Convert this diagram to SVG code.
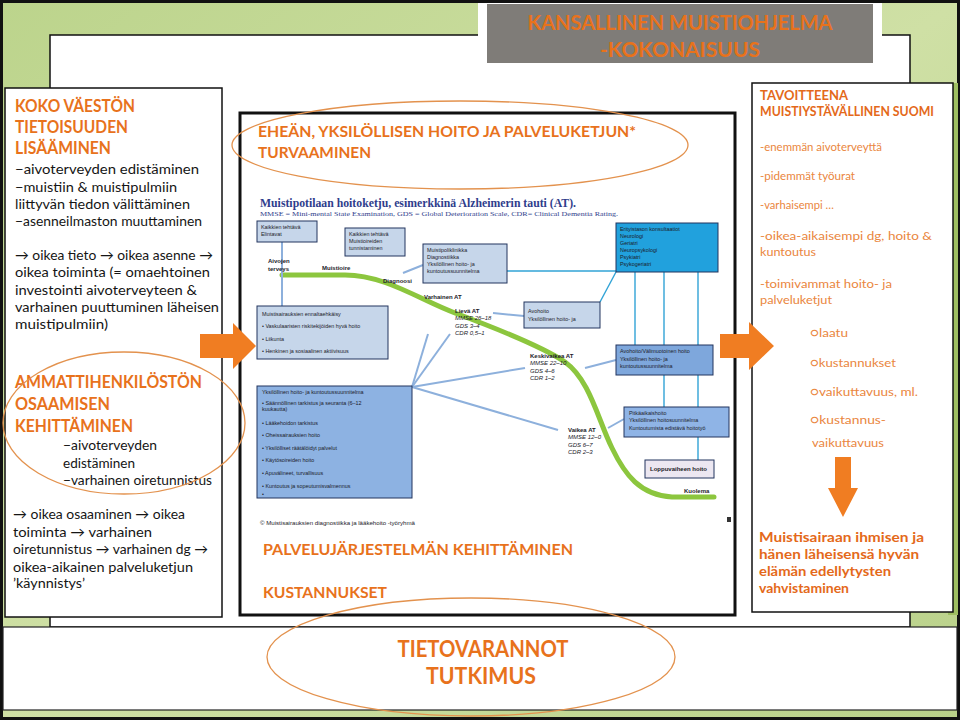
<svg xmlns="http://www.w3.org/2000/svg" width="960" height="720" viewBox="0 0 960 720">
<defs>
<linearGradient id="bg" x1="0" y1="0" x2="1" y2="1">
<stop offset="0" stop-color="#bcd48c"/>
<stop offset="0.5" stop-color="#cfe0a5"/>
<stop offset="1" stop-color="#b9d189"/>
</linearGradient>
<style>
.h{font-family:Lato,"Open Sans","Liberation Sans",sans-serif;font-weight:700;fill:#e8721c}
.b{font-family:Lato,"Open Sans","Liberation Sans",sans-serif;font-size:13.5px;fill:#151515}
.ro{font-family:Lato,"Open Sans","Liberation Sans",sans-serif;font-size:12px;fill:#ea8640}
.rb{font-family:Lato,"Open Sans","Liberation Sans",sans-serif;font-size:13px;font-weight:700;fill:#e4691a}
.t{font-family:"Liberation Sans",Arial,sans-serif;font-size:5.4px;fill:#1c1c2a}
.tb{font-family:"Liberation Sans",Arial,sans-serif;font-size:6px;font-weight:700;fill:#1c1c2a}
.ti{font-family:"Liberation Sans",Arial,sans-serif;font-size:6px;font-style:italic;fill:#1c1c2a}
.panel{fill:#fff;stroke:#111;stroke-width:1.5}
.bx{stroke:#23355e;stroke-width:1}
.ell{fill:none;stroke:#e3924e;stroke-width:1.3}
.fan{stroke:#8db0dc;stroke-width:2;fill:none}
.cy{stroke:#31a3d6;stroke-width:1.4;fill:none}
.arr{fill:#f07d22}
</style>
</defs>

<!-- background frame -->
<rect x="1.5" y="1.5" width="957" height="717" fill="url(#bg)" stroke="#111" stroke-width="3"/>
<rect class="panel" x="50" y="35" width="860" height="592"/>
<rect x="3" y="627" width="954" height="83" fill="#fff" stroke="#222" stroke-width="1.2"/>

<!-- title -->
<g id="title">
<rect x="478" y="3" width="404" height="65" fill="#fff"/>
<rect x="487" y="4" width="386" height="59" fill="#7f7c78"/>
<text class="h" x="680" y="30" font-size="21" text-anchor="middle" textLength="305" lengthAdjust="spacingAndGlyphs" fill="#ee6a1c">KANSALLINEN MUISTIOHJELMA</text>
<text class="h" x="680" y="57" font-size="21" text-anchor="middle" textLength="160" lengthAdjust="spacingAndGlyphs" fill="#ee6a1c">-KOKONAISUUS</text>
</g>

<!-- left box -->
<g id="left-box">
<rect class="panel" x="5" y="88" width="217" height="529"/>
<text class="h" x="15" y="112" font-size="16.5" textLength="120" lengthAdjust="spacingAndGlyphs">KOKO VÄESTÖN</text>
<text class="h" x="15" y="133" font-size="16.5" textLength="113" lengthAdjust="spacingAndGlyphs">TIETOISUUDEN</text>
<text class="h" x="15" y="154" font-size="16.5" textLength="96" lengthAdjust="spacingAndGlyphs">LISÄÄMINEN</text>
<text class="b" x="15" y="174" textLength="184" lengthAdjust="spacingAndGlyphs">−aivoterveyden edistäminen</text>
<text class="b" x="15" y="192" textLength="162" lengthAdjust="spacingAndGlyphs">−muistiin &amp; muistipulmiin</text>
<text class="b" x="15" y="209" textLength="175" lengthAdjust="spacingAndGlyphs">liittyvän tiedon välittäminen</text>
<text class="b" x="15" y="226" textLength="187" lengthAdjust="spacingAndGlyphs">−asenneilmaston muuttaminen</text>
<text class="b" x="15" y="260" textLength="198" lengthAdjust="spacingAndGlyphs">→ oikea tieto → oikea asenne →</text>
<text class="b" x="15" y="277" textLength="195" lengthAdjust="spacingAndGlyphs">oikea toiminta (= omaehtoinen</text>
<text class="b" x="15" y="295" textLength="182" lengthAdjust="spacingAndGlyphs">investointi aivoterveyteen &amp;</text>
<text class="b" x="15" y="312" textLength="204" lengthAdjust="spacingAndGlyphs">varhainen puuttuminen läheisen</text>
<text class="b" x="15" y="329" textLength="93" lengthAdjust="spacingAndGlyphs">muistipulmiin)</text>

<text class="h" x="15" y="388" font-size="16.5" textLength="187" lengthAdjust="spacingAndGlyphs">AMMATTIHENKILÖSTÖN</text>
<text class="h" x="15" y="410" font-size="16.5" textLength="95" lengthAdjust="spacingAndGlyphs">OSAAMISEN</text>
<text class="h" x="15" y="432" font-size="16.5" textLength="118" lengthAdjust="spacingAndGlyphs">KEHITTÄMINEN</text>
<text class="b" x="63" y="450" textLength="94" lengthAdjust="spacingAndGlyphs">−aivoterveyden</text>
<text class="b" x="63" y="468" textLength="72" lengthAdjust="spacingAndGlyphs">edistäminen</text>
<text class="b" x="63" y="485" textLength="149" lengthAdjust="spacingAndGlyphs">−varhainen oiretunnistus</text>
<text class="b" x="13" y="519" textLength="172" lengthAdjust="spacingAndGlyphs">→ oikea osaaminen → oikea</text>
<text class="b" x="13" y="537" textLength="139" lengthAdjust="spacingAndGlyphs">toiminta → varhainen</text>
<text class="b" x="13" y="554" textLength="195" lengthAdjust="spacingAndGlyphs">oiretunnistus → varhainen dg →</text>
<text class="b" x="13" y="572" textLength="180" lengthAdjust="spacingAndGlyphs">oikea-aikainen palveluketjun</text>
<text class="b" x="13" y="588" textLength="72" lengthAdjust="spacingAndGlyphs">’käynnistys’</text>
</g>

<!-- right box -->
<g id="right-box">
<rect x="948" y="83" width="10" height="532" fill="#9fbf62"/>
<rect class="panel" x="752" y="83" width="201" height="529"/>
<text class="rb" x="760" y="100" font-size="11.5" textLength="88" lengthAdjust="spacingAndGlyphs">TAVOITTEENA</text>
<text class="rb" x="760" y="116" font-size="11.5" textLength="174" lengthAdjust="spacingAndGlyphs">MUISTIYSTÄVÄLLINEN SUOMI</text>
<text class="ro" x="760" y="151" textLength="122" lengthAdjust="spacingAndGlyphs">-enemmän aivoterveyttä</text>
<text class="ro" x="760" y="180" textLength="95" lengthAdjust="spacingAndGlyphs">-pidemmät työurat</text>
<text class="ro" x="760" y="209" textLength="74" lengthAdjust="spacingAndGlyphs">-varhaisempi …</text>
<text class="ro" x="760" y="240" textLength="172" lengthAdjust="spacingAndGlyphs">-oikea-aikaisempi dg, hoito &amp;</text>
<text class="ro" x="760" y="256" textLength="56" lengthAdjust="spacingAndGlyphs">kuntoutus</text>
<text class="ro" x="760" y="288" textLength="132" lengthAdjust="spacingAndGlyphs">-toimivammat hoito- ja</text>
<text class="ro" x="760" y="304" textLength="72" lengthAdjust="spacingAndGlyphs">palveluketjut</text>
<text class="ro" x="810" y="337" textLength="38" lengthAdjust="spacingAndGlyphs">○laatu</text>
<text class="ro" x="810" y="367" textLength="86" lengthAdjust="spacingAndGlyphs">○kustannukset</text>
<text class="ro" x="810" y="396" textLength="108" lengthAdjust="spacingAndGlyphs">○vaikuttavuus, ml.</text>
<text class="ro" x="810" y="424" textLength="76" lengthAdjust="spacingAndGlyphs">○kustannus-</text>
<text class="ro" x="812" y="447" textLength="72" lengthAdjust="spacingAndGlyphs">vaikuttavuus</text>
<path class="arr" d="M835,457 H851 V488 H858 L843,517 L828,488 H835 Z"/>
<text class="rb" x="759" y="542" textLength="165" lengthAdjust="spacingAndGlyphs">Muistisairaan ihmisen ja</text>
<text class="rb" x="759" y="559" textLength="160" lengthAdjust="spacingAndGlyphs">hänen läheisensä hyvän</text>
<text class="rb" x="759" y="576" textLength="132" lengthAdjust="spacingAndGlyphs">elämän edellytysten</text>
<text class="rb" x="759" y="593" textLength="90" lengthAdjust="spacingAndGlyphs">vahvistaminen</text>
</g>

<!-- center box -->
<g id="center-box">
<rect x="240" y="113" width="495" height="502" fill="#fff" stroke="#111" stroke-width="3"/>
<text class="h" x="258" y="137" font-size="14.5" textLength="378" lengthAdjust="spacingAndGlyphs">EHEÄN, YKSILÖLLISEN HOITO JA PALVELUKETJUN*</text>
<text class="h" x="258" y="158" font-size="14.5" textLength="113" lengthAdjust="spacingAndGlyphs">TURVAAMINEN</text>
<text x="260" y="207" font-family="'Liberation Serif','Times New Roman',serif" font-weight="700" font-size="11.5" fill="#2f3d8c" textLength="316" lengthAdjust="spacingAndGlyphs">Muistipotilaan hoitoketju, esimerkkinä Alzheimerin tauti (AT).</text>
<text x="260" y="216" font-family="'Liberation Serif','Times New Roman',serif" font-size="6.3" fill="#2f3d8c" textLength="358" lengthAdjust="spacingAndGlyphs">MMSE = Mini-mental State Examination, GDS = Global Deterioration Scale, CDR= Clinical Dementia Rating.</text>
<text class="t" x="260" y="525" textLength="155" lengthAdjust="spacingAndGlyphs">© Muistisairauksien diagnostiikka ja lääkehoito -työryhmä</text>
<rect x="727" y="517" width="4" height="5" fill="#333"/>
<text class="h" x="263" y="555" font-size="16" textLength="310" lengthAdjust="spacingAndGlyphs">PALVELUJÄRJESTELMÄN KEHITTÄMINEN</text>
<text class="h" x="263" y="598" font-size="16" textLength="124" lengthAdjust="spacingAndGlyphs">KUSTANNUKSET</text>
</g>

<!-- connectors of the care-chain diagram -->
<g id="connectors">
<path d="M282,275 L345,275 C385,275 420,300 455,313 C490,326 540,345 565,362 C590,380 598,420 612,448 C625,475 640,495 672,497 L714,497" fill="none" stroke="#8cc63e" stroke-width="5" stroke-linecap="round"/>
<line class="fan" x1="282" y1="242" x2="282" y2="306"/>
<line class="fan" x1="403" y1="273" x2="423" y2="265"/>
<line class="fan" x1="493" y1="313" x2="524" y2="316"/>
<line class="fan" x1="412" y1="387" x2="428" y2="334"/>
<line class="fan" x1="412" y1="387" x2="450" y2="334"/>
<line class="fan" x1="412" y1="387" x2="525" y2="368"/>
<line class="fan" x1="412" y1="387" x2="558" y2="430"/>
<line class="fan" x1="585" y1="368" x2="616" y2="360"/>
<line class="fan" x1="608" y1="428" x2="624" y2="419"/>
<line class="cy" x1="507" y1="271" x2="616" y2="271"/>
<line class="cy" x1="600" y1="302" x2="616" y2="272"/>
<line class="cy" x1="635" y1="272" x2="635" y2="345"/>
<line class="cy" x1="664" y1="272" x2="664" y2="407"/>
<line class="cy" x1="698" y1="272" x2="698" y2="460"/>
</g>

<!-- care-chain nodes -->
<g id="n-elintavat">
<rect class="bx" x="257" y="221" width="60" height="21" fill="#c6d6ea"/>
<text class="t" x="261" y="229">Kaikkien tehtävä</text>
<text class="t" x="261" y="236">Elintavat</text>
</g>
<g id="n-muistioireet">
<rect class="bx" x="345" y="228" width="60" height="28" fill="#c6d6ea"/>
<text class="t" x="349" y="236">Kaikkien tehtävä</text>
<text class="t" x="349" y="243">Muistioireiden</text>
<text class="t" x="349" y="250">tunnistaminen</text>
</g>
<g id="n-muistipoliklinikka">
<rect class="bx" x="423" y="244" width="84" height="39" fill="#c6d6ea"/>
<text class="t" x="427" y="252">Muistipoliklinikka</text>
<text class="t" x="427" y="259">Diagnostiikka</text>
<text class="t" x="427" y="266">Yksilöllinen hoito- ja</text>
<text class="t" x="427" y="273">kuntoutussuunnitelma</text>
</g>
<g id="n-erityistaso">
<rect class="bx" x="616" y="223" width="102" height="49" fill="#21a1dd"/>
<text class="t" x="620" y="231">Erityistason konsultaatiot</text>
<text class="t" x="620" y="238">Neurologi</text>
<text class="t" x="620" y="245">Geriatri</text>
<text class="t" x="620" y="252">Neuropsykologi</text>
<text class="t" x="620" y="259">Psykiatri</text>
<text class="t" x="620" y="266">Psykogeriatri</text>
</g>
<g id="n-avohoito">
<rect class="bx" x="524" y="302" width="76" height="26" fill="#c6d6ea"/>
<text class="t" x="528" y="313">Avohoito</text>
<text class="t" x="528" y="321">Yksilöllinen hoito- ja</text>
</g>
<g id="n-ennaltaehkaisy">
<rect class="bx" x="257" y="306" width="131" height="53" fill="#c6d6ea"/>
<text class="t" x="262" y="316">Muistisairauksien ennaltaehkäisy</text>
<text class="t" x="262" y="328">• Vaskulaaristen riskitekijöiden hyvä hoito</text>
<text class="t" x="262" y="341">• Liikunta</text>
<text class="t" x="262" y="353">• Henkinen ja sosiaalinen aktiivisuus</text>
</g>
<g id="n-hoitosuunnitelma">
<rect class="bx" x="257" y="386" width="155" height="112" fill="#8db2e2"/>
<text class="t" x="262" y="394">Yksilöllinen hoito- ja kuntoutussuunnitelma</text>
<text class="t" x="262" y="405">• Säännöllinen tarkistus ja seuranta (6–12</text>
<text class="t" x="262" y="411">kuukautta)</text>
<text class="t" x="262" y="425">• Lääkehoidon tarkistus</text>
<text class="t" x="262" y="437">• Oheissairauksien hoito</text>
<text class="t" x="262" y="450">• Yksilölliset räätälöidyt palvelut</text>
<text class="t" x="262" y="462">• Käytösoireiden hoito</text>
<text class="t" x="262" y="475">• Apuvälineet, turvallisuus</text>
<text class="t" x="262" y="488">• Kuntoutus ja sopeutumisvalmennus</text>
<text class="t" x="262" y="496">•</text>
</g>
<g id="n-valimuotoinen">
<rect class="bx" x="616" y="345" width="97" height="30" fill="#7ea7dc"/>
<text class="t" x="620" y="353">Avohoito/Välimuotoinen hoito</text>
<text class="t" x="620" y="361">Yksilöllinen hoito- ja</text>
<text class="t" x="620" y="368">kuntoutussuunnitelma</text>
</g>
<g id="n-pitkaaikaishoito">
<rect class="bx" x="624" y="407" width="105" height="30" fill="#8fb4e6"/>
<text class="t" x="629" y="415">Pitkäaikaishoito</text>
<text class="t" x="629" y="422">Yksilöllinen hoitosuunnitelma</text>
<text class="t" x="629" y="430">Kuntoutumista edistävä hoitotyö</text>
</g>
<g id="n-loppuvaihe">
<rect class="bx" x="645" y="460" width="69" height="18" fill="#ece7f1"/>
<text class="tb" x="650" y="471" font-size="5.6">Loppuvaiheen hoito</text>
</g>
<g id="stage-labels">
<text class="tb" x="268" y="263">Aivojen</text>
<text class="tb" x="268" y="271">terveys</text>
<text class="tb" x="322" y="270">Muistioire</text>
<text class="tb" x="383" y="283">Diagnoosi</text>
<text class="tb" x="424" y="299">Varhainen AT</text>
<text class="tb" x="455" y="313">Lievä AT</text>
<text class="ti" x="455" y="320">MMSE 26–18</text>
<text class="ti" x="455" y="328">GDS 3–4</text>
<text class="ti" x="455" y="335">CDR 0,5–1</text>
<text class="tb" x="530" y="358">Keskivaikea AT</text>
<text class="ti" x="530" y="365">MMSE 22–10</text>
<text class="ti" x="530" y="373">GDS 4–6</text>
<text class="ti" x="530" y="380">CDR 1–2</text>
<text class="tb" x="568" y="432">Vaikea AT</text>
<text class="ti" x="568" y="439">MMSE 12–0</text>
<text class="ti" x="568" y="447">GDS 6–7</text>
<text class="ti" x="568" y="454">CDR 2–3</text>
<text class="tb" x="684" y="493">Kuolema</text>
</g>

<!-- bottom -->
<g id="bottom">
<text class="h" x="483" y="657" font-size="23" text-anchor="middle" textLength="171" lengthAdjust="spacingAndGlyphs">TIETOVARANNOT</text>
<text class="h" x="481" y="684" font-size="23" text-anchor="middle" textLength="110" lengthAdjust="spacingAndGlyphs">TUTKIMUS</text>
</g>

<!-- flow arrows -->
<g id="flow-arrows">
<path class="arr" d="M200,334 H233 V323 L256,346 L233,369 V358 H200 Z"/>
<path class="arr" d="M720,334 H749 V322 L774,346 L749,370 V358 H720 Z"/>
</g>

<!-- highlight ellipses -->
<g id="highlights">
<ellipse class="ell" cx="460" cy="145" rx="228" ry="44"/>
<ellipse class="ell" cx="124" cy="423" rx="121" ry="71"/>
<ellipse class="ell" cx="471" cy="657" rx="204" ry="59"/>
</g>
</svg>
